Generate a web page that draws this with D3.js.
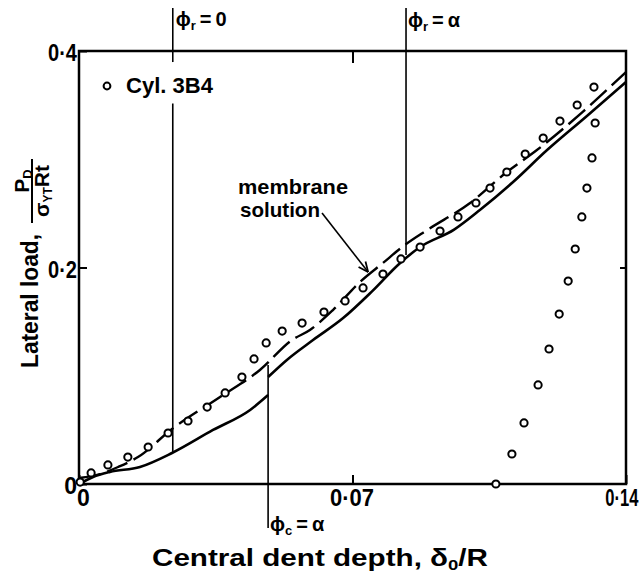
<!DOCTYPE html>
<html>
<head>
<meta charset="utf-8">
<script src="https://cdn.jsdelivr.net/npm/d3@7"></script>
<style>
  body { margin: 0; background: #fff; }
  text { font-family: "Liberation Sans", "DejaVu Sans", sans-serif; font-weight: bold; fill: #000; }
</style>
</head>
<body>
<script>
// Cyl. 3B4 test points, loading branch
var loadX = [0.0003, 0.0031, 0.0074, 0.0125, 0.0177, 0.0228, 0.0279, 0.0328, 0.0374, 0.0417,
             0.0448, 0.0479, 0.0520, 0.0571, 0.0627, 0.0681, 0.0727, 0.0778, 0.0824, 0.0873,
             0.0924, 0.0970, 0.1016, 0.1052, 0.1095, 0.1142, 0.1188, 0.1231, 0.1275, 0.1318];
var loadY = [0.0018, 0.0102, 0.0176, 0.0249, 0.0342, 0.0471, 0.0582, 0.0711, 0.0841, 0.0988,
             0.1155, 0.1303, 0.1413, 0.1487, 0.1589, 0.1691, 0.1811, 0.1940, 0.2079, 0.2189,
             0.2337, 0.2467, 0.2596, 0.2734, 0.2882, 0.3048, 0.3196, 0.3353, 0.3501, 0.3667];
// unloading branch
var unloadX = [0.1321, 0.1313, 0.1300, 0.1287, 0.1270, 0.1252, 0.1229, 0.1203, 0.1175, 0.1139, 0.1108, 0.1067];
var unloadY = [0.3335, 0.3012, 0.2734, 0.2467, 0.2171, 0.1875, 0.1570, 0.1247, 0.0915, 0.0564, 0.0277, 0.0];

// theory (solid), below and above the phi_c = alpha jump
var solidLowX = [0, 0.0036, 0.0079, 0.0156, 0.0238, 0.0343, 0.0438, 0.0484];
var solidLowY = [0, 0.0065, 0.0111, 0.0157, 0.0286, 0.0499, 0.0684, 0.0822];
var solidUpX = [0.0484, 0.0532, 0.0599, 0.0676, 0.0750, 0.0822, 0.0873, 0.0960, 0.1026, 0.1111, 0.1198, 0.1300, 0.14];
var solidUpY = [0.0988, 0.1146, 0.1330, 0.1533, 0.1780, 0.2042, 0.2189, 0.2350, 0.2531, 0.2790, 0.3085, 0.3400, 0.3714];

// membrane solution (dashed)
var dashX = [0, 0.0054, 0.0100, 0.0151, 0.0238, 0.0361, 0.0463, 0.0545, 0.0591, 0.0650, 0.0719,
             0.0778, 0.0834, 0.0891, 0.1001, 0.1095, 0.1172, 0.1290, 0.14];
var dashY = [0.0055, 0.0092, 0.0157, 0.0249, 0.0508, 0.0804, 0.1053, 0.1330, 0.1423, 0.1607, 0.1866,
             0.2042, 0.2208, 0.2346, 0.2596, 0.2882, 0.3085, 0.3440, 0.3806];

// phi markers: x position, and the y spans drawn
var phiNames = ["r", "r", "c"];
var phiVals = ["0", "\u03b1", "\u03b1"];
var phiX = [0.0240, 0.0837, 0.0484];
var phiSpans = [[[0.3515, 0.0286], [0.4397, 0.3898]], [[0.4397, 0.2116]], [[0.1099, -0.0406]]];

var xTicks = [0, 0.07, 0.14];
var yTicks = [0, 0.2, 0.4];

var arrowX = [0.0622, 0.0740];
var arrowY = [0.2503, 0.1958];

var width = 640, height = 584;
var margin = {top: 51, right: 14, bottom: 100, left: 79};

var x = d3.scaleLinear().domain([0, 0.14]).range([margin.left, width - margin.right]);
var y = d3.scaleLinear().domain([0, 0.4]).range([height - margin.bottom, margin.top]);

var svg = d3.select("body").append("svg")
    .attr("width", width)
    .attr("height", height);

var fmt = function (d) { return d === 0 ? "0" : String(d).replace(".", "\u00b7"); };

// axes, ticks point inward
var gx = svg.append("g")
    .attr("transform", "translate(0," + y(0) + ")")
    .call(d3.axisBottom(x).tickValues(xTicks).tickSize(-9).tickPadding(6).tickFormat(fmt));
var gy = svg.append("g")
    .attr("transform", "translate(" + x(0) + ",0)")
    .call(d3.axisLeft(y).tickValues(yTicks).tickSize(-8).tickPadding(2).tickFormat(fmt));
svg.append("g")
    .attr("transform", "translate(0," + y(0.4) + ")")
    .call(d3.axisTop(x).tickValues([0.07]).tickSize(-12).tickFormat(""));
svg.append("g")
    .attr("transform", "translate(" + x(0.14) + ",0)")
    .call(d3.axisRight(y).tickValues([0.2]).tickSize(-6).tickFormat(""));

svg.selectAll(".domain").remove();
svg.selectAll(".tick line").attr("stroke", "#000").attr("stroke-width", 2);
svg.selectAll(".tick text")
    .attr("font-family", null)
    .attr("font-size", "23px")
    .attr("fill", "#000");
gy.selectAll(".tick text")
    .attr("dy", "0.42em")
    .attr("textLength", function (d) { return d === 0 ? null : 29; })
    .attr("lengthAdjust", "spacingAndGlyphs");
gx.selectAll(".tick text")
    .filter(function (d) { return d !== 0.14; })
    .attr("dx", function (d) { return d === 0 ? 4 : -1; })
    .attr("textLength", function (d) { return d === 0 ? null : 44; })
    .attr("lengthAdjust", "spacingAndGlyphs");
// last label squeezed against the right edge
gx.selectAll(".tick text")
    .filter(function (d) { return d === 0.14; })
    .attr("text-anchor", "end")
    .attr("transform", "translate(12,0) scale(0.72,1)");

// frame
svg.append("rect")
    .attr("x", x(0))
    .attr("y", y(0.4))
    .attr("width", x(0.14) - x(0))
    .attr("height", y(0) - y(0.4))
    .attr("fill", "none")
    .attr("stroke", "#000")
    .attr("stroke-width", 2.5);

// phi lines
phiX.forEach(function (px, i) {
    phiSpans[i].forEach(function (s) {
        svg.append("line")
            .attr("x1", x(px)).attr("x2", x(px))
            .attr("y1", y(s[0])).attr("y2", y(s[1]))
            .attr("stroke", "#000")
            .attr("stroke-width", 1.6);
    });
});

function phiLabel(i, tx, ty) {
    var t = svg.append("text")
        .attr("x", tx)
        .attr("y", ty)
        .attr("font-size", "20px");
    t.append("tspan").text("\u03d5");
    t.append("tspan").attr("font-size", "13px").attr("dy", 4).text(phiNames[i]);
    t.append("tspan").attr("dy", -4).text("\u2009=\u2009" + phiVals[i]);
}
phiLabel(0, x(phiX[0]) + 3, 26);
phiLabel(1, x(phiX[1]) + 2, 27);
phiLabel(2, x(phiX[2]) + 2, 531);

// curves
var line = d3.line()
    .x(function (d) { return x(d[0]); })
    .y(function (d) { return y(d[1]); })
    .curve(d3.curveMonotoneX);

var solidLow = d3.zip(solidLowX, solidLowY);
var solidUp = d3.zip(solidUpX, solidUpY);
var dashed = d3.zip(dashX, dashY);

[solidLow, solidUp].forEach(function (pts) {
    svg.append("path")
        .datum(pts)
        .attr("d", line)
        .attr("fill", "none")
        .attr("stroke", "#000")
        .attr("stroke-width", 2.6);
});

svg.append("path")
    .datum(dashed)
    .attr("d", line)
    .attr("fill", "none")
    .attr("stroke", "#000")
    .attr("stroke-width", 2.4)
    .attr("stroke-dasharray", "22,7");

// test points
var pts = d3.zip(loadX, loadY).concat(d3.zip(unloadX, unloadY));
svg.append("g")
    .selectAll("circle")
    .data(pts)
    .enter()
    .append("circle")
    .attr("cx", function (d) { return x(d[0]); })
    .attr("cy", function (d) { return y(d[1]); })
    .attr("r", 3.6)
    .attr("fill", "#fff")
    .attr("stroke", "#000")
    .attr("stroke-width", 2);

// legend
svg.append("circle")
    .attr("cx", 107).attr("cy", 86).attr("r", 3.4)
    .attr("fill", "#fff").attr("stroke", "#000").attr("stroke-width", 2);
svg.append("text")
    .attr("x", 126).attr("y", 93)
    .attr("font-size", "22px")
    .attr("textLength", 87)
    .attr("lengthAdjust", "spacingAndGlyphs")
    .text("Cyl. 3B4");

// membrane solution note + arrow
svg.append("text")
    .attr("x", 238).attr("y", 194)
    .attr("font-size", "21px")
    .attr("textLength", 110)
    .attr("lengthAdjust", "spacingAndGlyphs")
    .text("membrane");
svg.append("text")
    .attr("x", 240).attr("y", 217)
    .attr("font-size", "21px")
    .attr("textLength", 80)
    .attr("lengthAdjust", "spacingAndGlyphs")
    .text("solution");

svg.append("defs").append("marker")
    .attr("id", "head")
    .attr("viewBox", "0 0 10 10")
    .attr("refX", 10).attr("refY", 5)
    .attr("markerWidth", 11).attr("markerHeight", 11)
    .attr("markerUnits", "userSpaceOnUse")
    .attr("orient", "auto")
    .append("path")
    .attr("d", "M1,1L10,5L1,9")
    .attr("fill", "none")
    .attr("stroke", "#000")
    .attr("stroke-width", 1.6);

svg.append("line")
    .attr("x1", x(arrowX[0])).attr("y1", y(arrowY[0]))
    .attr("x2", x(arrowX[1])).attr("y2", y(arrowY[1]))
    .attr("stroke", "#000")
    .attr("stroke-width", 1.6)
    .attr("marker-end", "url(#head)");

// x axis title
var xt = svg.append("text")
    .attr("x", 152).attr("y", 566)
    .attr("font-size", "24px")
    .attr("textLength", 336)
    .attr("lengthAdjust", "spacingAndGlyphs");
xt.append("tspan").text("Central dent depth, \u03b4");
xt.append("tspan").attr("font-size", "15px").attr("dy", 4).text("0");
xt.append("tspan").attr("dy", -4).text("/R");

// y axis title (rotated), with the fraction
var yt = svg.append("g").attr("transform", "translate(38,368) rotate(-90)");
yt.append("text")
    .attr("x", 0).attr("y", 0)
    .attr("font-size", "24px")
    .attr("textLength", 134)
    .attr("lengthAdjust", "spacingAndGlyphs")
    .text("Lateral load,");

var fr = svg.append("g").attr("transform", "translate(32,191) rotate(-90)");
fr.append("line")
    .attr("x1", -32).attr("x2", 32)
    .attr("y1", 0).attr("y2", 0)
    .attr("stroke", "#000").attr("stroke-width", 2);
var num = fr.append("text")
    .attr("x", 10).attr("y", -3)
    .attr("text-anchor", "middle")
    .attr("font-size", "21px");
num.append("tspan").text("P");
num.append("tspan").attr("font-size", "13px").attr("dy", 3).text("D");
var den = fr.append("text")
    .attr("x", 0).attr("y", 17)
    .attr("text-anchor", "middle")
    .attr("font-size", "21px");
den.append("tspan").text("\u03c3");
den.append("tspan").attr("font-size", "12px").attr("dy", 3).text("YT");
den.append("tspan").attr("dy", -3).text("Rt");
</script>
</body>
</html>
